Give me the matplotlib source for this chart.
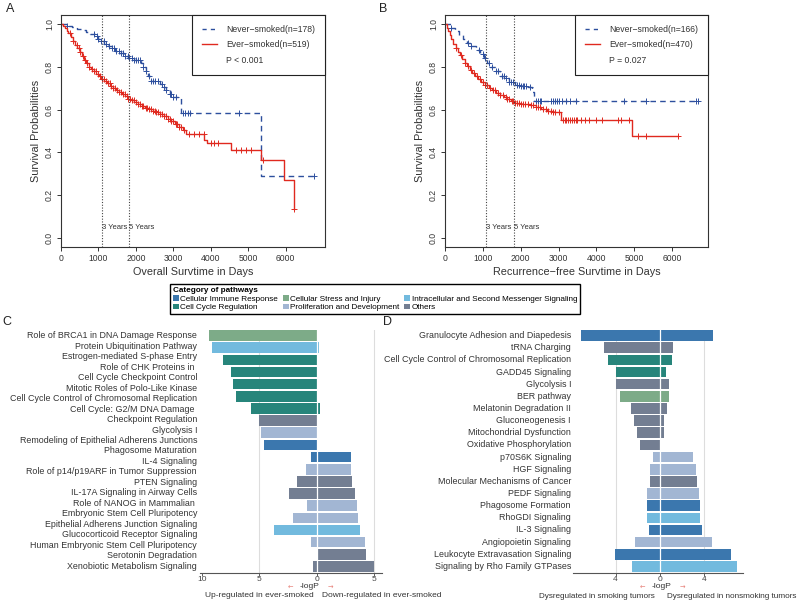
import numpy as np
import matplotlib
matplotlib.use("Agg")
import matplotlib.pyplot as plt
from matplotlib.lines import Line2D
from matplotlib.patches import Patch
from matplotlib.transforms import blended_transform_factory

plt.rcParams['font.family'] = ['Liberation Sans', 'DejaVu Sans']

BLUE = '#2d4f9e'
RED = '#e0291f'

# ---- panel A: overall survival (Kaplan-Meier)
a_never_t = [0, 170, 300, 420, 540, 660, 780, 900, 1000, 1080, 1160, 1250, 1350, 1450,
             1560, 1680, 1800, 1950, 2130, 2200, 2260, 2320, 2400, 2650, 2720, 2800,
             2900, 2960, 3200, 5340, 6765]
a_never_s = [1.0, 0.994, 0.987, 0.98, 0.972, 0.963, 0.955, 0.945, 0.93, 0.92, 0.91, 0.9,
             0.888, 0.876, 0.864, 0.85, 0.842, 0.833, 0.82, 0.8, 0.78, 0.76, 0.732, 0.72,
             0.705, 0.69, 0.672, 0.658, 0.583, 0.289, 0.289]
a_never_cens = [170, 880, 950, 1000, 1080, 1150, 1200, 1280, 1350, 1420, 1480, 1550, 1600,
                1650, 1700, 1780, 1820, 1900, 1950, 2000, 2050, 2100, 2200, 2280, 2350,
                2400, 2450, 2500, 2580, 2700, 2750, 2800, 2900, 2950, 3000, 3080, 3250,
                3320, 3400, 3450, 4750, 6765]
a_ever_t = [0, 50, 100, 150, 200, 260, 320, 380, 440, 500, 560, 620, 680, 740, 800, 870,
            940, 1010, 1080, 1150, 1230, 1310, 1390, 1470, 1550, 1630, 1710, 1790, 1870,
            1960, 2050, 2150, 2250, 2350, 2450, 2550, 2650, 2750, 2850, 2950, 3050, 3150,
            3250, 3330, 3830, 3900, 4550, 5340, 5960, 6210]
a_ever_s = [1.0, 0.992, 0.982, 0.97, 0.957, 0.94, 0.922, 0.905, 0.888, 0.87, 0.852, 0.835,
            0.818, 0.802, 0.79, 0.779, 0.768, 0.757, 0.746, 0.735, 0.724, 0.713, 0.702,
            0.692, 0.682, 0.672, 0.662, 0.652, 0.643, 0.635, 0.627, 0.618, 0.61, 0.602,
            0.595, 0.587, 0.578, 0.568, 0.556, 0.545, 0.533, 0.52, 0.505, 0.485, 0.458,
            0.442, 0.411, 0.364, 0.27, 0.133]
a_ever_cens = [230, 330, 420, 480, 520, 600, 650, 700, 760, 820, 880, 930, 980, 1040, 1100,
               1140, 1200, 1250, 1300, 1340, 1400, 1450, 1500, 1560, 1600, 1650, 1700,
               1760, 1800, 1850, 1900, 1950, 2000, 2060, 2100, 2150, 2200, 2260, 2300,
               2350, 2400, 2450, 2500, 2550, 2600, 2650, 2700, 2760, 2800, 2850, 2900,
               2950, 3000, 3060, 3100, 3150, 3200, 3280, 3420, 3556, 3690, 3823, 4002,
               4091, 4180, 4671, 4805, 4938, 5072, 5383, 6210]

# ---- panel B: recurrence-free survival
b_never_t = [0, 150, 260, 370, 480, 590, 700, 810, 920, 1020, 1100, 1200, 1320, 1450, 1560,
             1700, 1850, 2000, 2200, 2290, 2360, 6689]
b_never_s = [1.0, 0.985, 0.968, 0.95, 0.932, 0.914, 0.896, 0.878, 0.86, 0.842, 0.818, 0.8,
             0.78, 0.76, 0.747, 0.73, 0.716, 0.71, 0.705, 0.685, 0.642, 0.642]
b_never_cens = [170, 600, 700, 900, 1000, 1050, 1150, 1250, 1350, 1400, 1500, 1550, 1600,
                1700, 1750, 1800, 1900, 1950, 2000, 2050, 2100, 2150, 2250, 2400, 2450,
                2500, 2550, 2800, 2850, 2900, 2950, 3000, 3100, 3200, 3300, 3450, 4736,
                5309, 6628, 6689]
b_ever_t = [0, 40, 80, 120, 170, 220, 280, 340, 400, 460, 520, 580, 650, 720, 800, 880, 960,
            1050, 1150, 1250, 1350, 1450, 1550, 1650, 1750, 1850, 2000, 2250, 2400, 2550,
            2700, 2850, 3060, 4930, 6161]
b_ever_s = [1.0, 0.985, 0.968, 0.95, 0.93, 0.91, 0.89, 0.872, 0.855, 0.838, 0.82, 0.804,
            0.788, 0.772, 0.757, 0.742, 0.728, 0.714, 0.7, 0.69, 0.68, 0.67, 0.66, 0.65,
            0.641, 0.632, 0.627, 0.62, 0.612, 0.603, 0.595, 0.59, 0.552, 0.478, 0.478]
b_ever_cens = [300, 420, 520, 600, 680, 760, 850, 920, 1000, 1060, 1120, 1200, 1260, 1320,
               1400, 1460, 1520, 1600, 1650, 1700, 1760, 1800, 1850, 1900, 1950, 2000,
               2060, 2120, 2200, 2260, 2320, 2400, 2460, 2520, 2600, 2660, 2720, 2800,
               2860, 2920, 3000, 3120, 3160, 3200, 3250, 3300, 3350, 3400, 3450, 3500,
               3600, 3700, 3800, 4000, 4150, 4559, 4649, 4868, 5087, 5309, 6161]

# ---- panels C / D: pathway -logP
categories = ['Cellular Immune Response', 'Cell Cycle Regulation',
              'Cellular Stress and Injury', 'Proliferation and Development',
              'Intracellular and Second Messenger Signaling', 'Others']
cat_colors = ['#3b77ae', '#27857b', '#7dab88', '#a2b6d3', '#72bade', '#737e92']

c_names = ['Role of BRCA1 in DNA Damage Response', 'Protein Ubiquitination Pathway',
           'Estrogen-mediated S-phase Entry',
           'Role of CHK Proteins in \nCell Cycle Checkpoint Control',
           'Mitotic Roles of Polo-Like Kinase', 'Cell Cycle Control of Chromosomal Replication',
           'Cell Cycle: G2/M DNA Damage \nCheckpoint Regulation', 'Glycolysis I',
           'Remodeling of Epithelial Adherens Junctions', 'Phagosome Maturation',
           'IL-4 Signaling', 'Role of p14/p19ARF in Tumor Suppression', 'PTEN Signaling',
           'IL-17A Signaling in Airway Cells',
           'Role of NANOG in Mammalian \nEmbryonic Stem Cell Pluripotency',
           'Epithelial Adherens Junction Signaling', 'Glucocorticoid Receptor Signaling',
           'Human Embryonic Stem Cell Pluripotency', 'Serotonin Degradation',
           'Xenobiotic Metabolism Signaling']
c_up = [9.37, 9.13, 8.12, 7.45, 7.25, 7.02, 5.74, 4.99, 4.84, 4.58,
        0.52, 0.93, 1.69, 2.41, 0.87, 2.03, 3.71, 0.52, 0.0, 0.35]
c_down = [0.0, 0.2, 0.0, 0.0, 0.0, 0.14, 0.29, 0.0, 0.0, 0.0,
          2.96, 2.98, 3.1, 3.33, 3.53, 3.62, 3.77, 4.2, 4.26, 4.98]
c_cat = [2, 4, 1, 1, 1, 1, 1, 5, 3, 0, 0, 3, 5, 5, 3, 3, 4, 3, 5, 5]

d_names = ['Granulocyte Adhesion and Diapedesis', 'tRNA Charging',
           'Cell Cycle Control of Chromosomal Replication', 'GADD45 Signaling',
           'Glycolysis I', 'BER pathway', 'Melatonin Degradation II', 'Gluconeogenesis I',
           'Mitochondrial Dysfunction', 'Oxidative Phosphorylation', 'p70S6K Signaling',
           'HGF Signaling', 'Molecular Mechanisms of Cancer', 'PEDF Signaling',
           'Phagosome Formation', 'RhoGDI Signaling', 'IL-3 Signaling',
           'Angiopoietin Signaling', 'Leukocyte Extravasation Signaling',
           'Signaling by Rho Family GTPases']
d_smoke = [7.12, 5.0, 4.71, 3.99, 3.99, 3.6, 2.62, 2.37, 2.1, 1.8,
           0.6, 0.9, 0.9, 1.14, 1.14, 1.14, 0.99, 2.22, 4.02, 2.55]
d_nonsmoke = [4.74, 1.2, 1.11, 0.51, 0.81, 0.81, 0.66, 0.36, 0.33, 0.0,
              3.0, 3.24, 3.36, 3.51, 3.6, 3.6, 3.75, 4.71, 6.4, 6.97]
d_cat = [0, 5, 1, 1, 5, 2, 5, 5, 5, 5, 3, 3, 5, 3, 0, 4, 0, 3, 0, 4]

W, H = 800, 601
fig = plt.figure(figsize=(W / 100, H / 100), dpi=100)


def box(l, t, r, b):
    return [l / W, 1 - b / H, (r - l) / W, (b - t) / H]


def km_panel(rect, curves, xmax, xlabel, legend_labels, ptext):
    ax = fig.add_axes(rect)
    for t, s, cens, col, ls in curves:
        ax.step(t, s, where='post', color=col, ls=ls, lw=1.0,
                dashes=(4, 3) if ls == '--' else (None, None))
        idx = np.searchsorted(t, cens, side='right') - 1
        ax.plot(cens, np.asarray(s)[idx], '+', color=col, ms=4, mew=0.7)
    for v in (1095, 1825):
        ax.axvline(v, color='#444444', ls=(0, (1, 1.5)), lw=0.8)
    ax.text(1095, 0.05, '3 Years', fontsize=5.5, color='#333333', ha='left', va='center')
    ax.text(1825, 0.05, '5 Years', fontsize=5.5, color='#333333', ha='left', va='center')
    ax.set_xlim(0, xmax)
    ax.set_ylim(-0.0436, 1.0436)
    ax.set_xticks(range(0, 7000, 1000))
    ax.set_yticks([0, 0.2, 0.4, 0.6, 0.8, 1.0])
    ax.set_yticklabels(['0.0', '0.2', '0.4', '0.6', '0.8', '1.0'])
    ax.tick_params(direction='out', length=3, width=0.7, labelsize=6.2, pad=2,
                   colors='#333333')
    for lab in ax.get_yticklabels():
        lab.set_rotation(90)
        lab.set_va('center')
    for sp in ax.spines.values():
        sp.set_linewidth(0.8)
        sp.set_color('#333333')
    ax.set_xlabel(xlabel, fontsize=7.8, color='#333333', labelpad=3)
    ax.set_ylabel('Survival Probabilities', fontsize=7.8, color='#333333', labelpad=3)
    handles = [Line2D([], [], color=BLUE, ls='--', lw=1, dashes=(3, 3)),
               Line2D([], [], color=RED, lw=1),
               Line2D([], [], color='none')]
    leg = ax.legend(handles, legend_labels + [ptext], loc='upper right', fontsize=6.2,
                    borderaxespad=0, fancybox=False, edgecolor='#222222',
                    handlelength=1.7, handletextpad=1.1, borderpad=1.15,
                    labelspacing=0.75, framealpha=1)
    leg.get_frame().set_linewidth(0.8)
    for txt in leg.get_texts():
        txt.set_color('#333333')
    return ax


km_panel(box(61, 15, 325, 247),
         [(a_never_t, a_never_s, a_never_cens, BLUE, '--'),
          (a_ever_t, a_ever_s, a_ever_cens, RED, '-')],
         7050, 'Overall Survtime in Days',
         ['Never\u2212smoked(n=178)', 'Ever\u2212smoked(n=519)'], 'P < 0.001')
km_panel(box(445, 15, 708, 247),
         [(b_never_t, b_never_s, b_never_cens, BLUE, '--'),
          (b_ever_t, b_ever_s, b_ever_cens, RED, '-')],
         6950, 'Recurrence\u2212free Survtime in Days',
         ['Never\u2212smoked(n=166)', 'Ever\u2212smoked(n=470)'], 'P = 0.027')

fig.text(10 / W, 1 - 9 / H, 'A', fontsize=9, ha='center', va='center', color='#222222')
fig.text(383 / W, 1 - 9 / H, 'B', fontsize=9, ha='center', va='center', color='#222222')
fig.text(7 / W, 1 - 322 / H, 'C', fontsize=9, ha='center', va='center', color='#222222')
fig.text(387 / W, 1 - 322 / H, 'D', fontsize=9, ha='center', va='center', color='#222222')


def bar_panel(rect, names, left_vals, right_vals, cats, xlim, ticks, grid, label_x):
    ax = fig.add_axes(rect)
    n = len(names)
    y = np.arange(n)
    cols = [cat_colors[c] for c in cats]
    ax.barh(y, -np.asarray(left_vals), height=0.87, color=cols, zorder=2)
    ax.barh(y, right_vals, height=0.87, color=cols, zorder=2)
    for g in grid:
        ax.axvline(g, color='#dddddd', lw=0.8, zorder=1)
    ax.axvline(0, color='white', lw=0.9, zorder=3)
    ax.set_xlim(*xlim)
    ax.set_ylim(n - 1 + 0.565, -0.49)
    ax.set_yticks([])
    ax.set_xticks(ticks)
    ax.set_xticklabels([str(abs(t)) for t in ticks])
    ax.tick_params(axis='x', length=2, width=0.6, pad=0.3, labelsize=6.0,
                   colors='#444444')
    for s in ('left', 'right', 'top'):
        ax.spines[s].set_visible(False)
    ax.spines['bottom'].set_color('#555555')
    ax.spines['bottom'].set_linewidth(0.8)
    lines = [ln for nm in names for ln in nm.split('\n')]
    tr = blended_transform_factory(fig.transFigure, ax.transData)
    for yy, ln in zip(np.linspace(0, n - 1, len(lines)), lines):
        ax.text(label_x / W, yy, ln, transform=tr, ha='right', va='center',
                fontsize=6.4, color='#333333')
    return ax


axc = bar_panel(box(200, 329.6, 381.7, 573.3), c_names, c_up, c_down, c_cat,
                (-10.15, 5.65), [-10, -5, 0, 5], [-5, 5], 197)
axd = bar_panel(box(573.3, 329.6, 743.3, 573.3), d_names, d_smoke, d_nonsmoke, d_cat,
                (-7.8, 7.5), [-4, 0, 4], [-4, 4], 571)

for cx in (310, 662):
    fig.text(cx / W, 1 - 587 / H, '-logP', fontsize=6.0, ha='center', va='center',
             color='#333333')
    fig.text((cx - 20) / W, 1 - 587.5 / H, '\u2190', fontsize=4.8, ha='center',
             va='center', color='#e8837b', family='DejaVu Sans')
    fig.text((cx + 20) / W, 1 - 587.5 / H, '\u2192', fontsize=4.8, ha='center',
             va='center', color='#e8837b', family='DejaVu Sans')
fig.text(259 / W, 1 - 595.5 / H, 'Up-regulated in ever-smoked', fontsize=6.0,
         ha='center', va='center', color='#333333')
fig.text(322 / W, 1 - 595.5 / H, 'Down-regulated in ever-smoked', fontsize=6.0,
         ha='left', va='center', color='#333333')
fig.text(597 / W, 1 - 596 / H, 'Dysregulated in smoking tumors', fontsize=5.9,
         ha='center', va='center', color='#333333')
fig.text(667 / W, 1 - 596 / H, 'Dysregulated in nonsmoking tumors', fontsize=5.9,
         ha='left', va='center', color='#333333')

# category legend (column-wise fill: 3 columns x 2 rows)
handles = [Patch(facecolor=c, edgecolor='none') for c in cat_colors]
leg = fig.legend(handles, categories, ncol=3, loc='upper left',
                 bbox_to_anchor=(170 / W, 1 - 284 / H), borderaxespad=0, fontsize=5.9,
                 title='Category of pathways', title_fontsize=5.9,
                 alignment='left', fancybox=False, edgecolor='black', framealpha=1,
                 handlelength=0.7, handleheight=0.7, handletextpad=0.2,
                 columnspacing=0.6, borderpad=0.35, labelspacing=0.12)
leg.get_title().set_fontweight('bold')
leg.get_frame().set_linewidth(1.0)

fig.savefig('out.png', dpi=100)
